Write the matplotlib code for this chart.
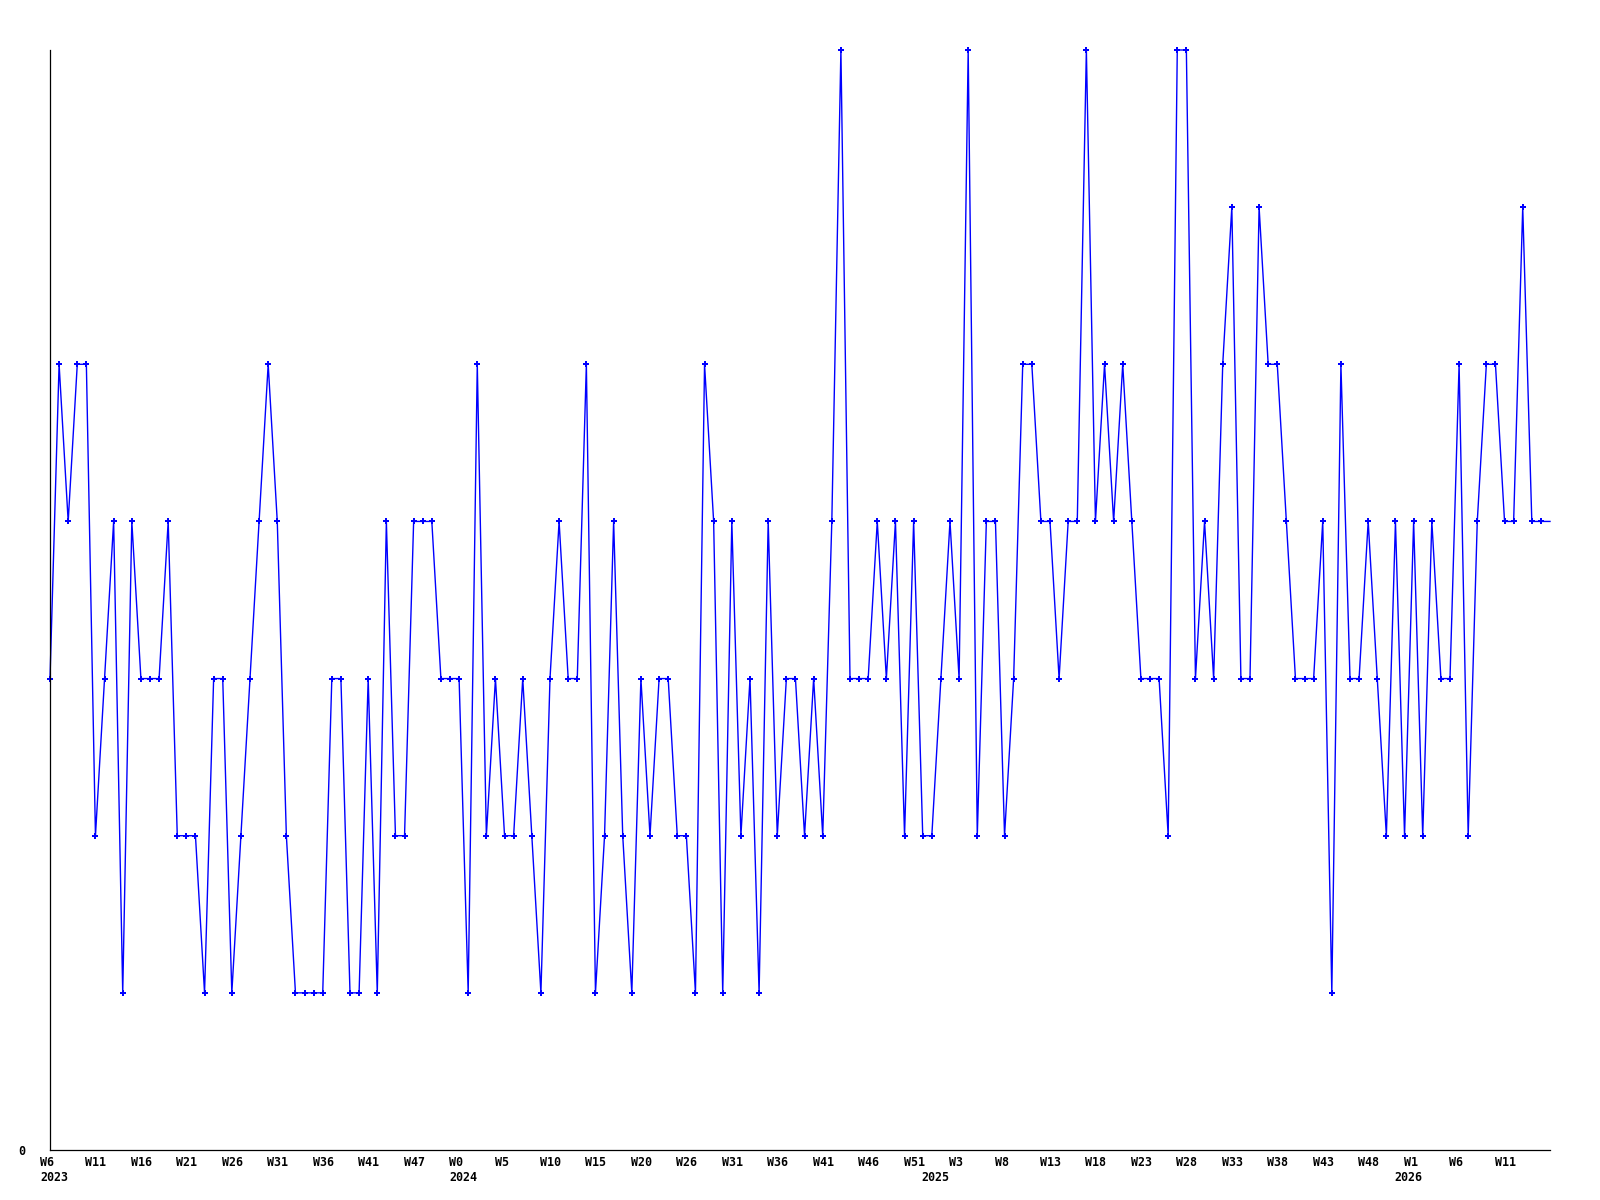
import matplotlib
matplotlib.use('Agg')
import matplotlib.pyplot as plt
from matplotlib.transforms import offset_copy

# weekly values (index 0 = 2023 W6)
values = [3, 5, 4, 5, 5, 2, 3, 4, 1, 4,
          3, 3, 3, 4, 2, 2, 2, 1, 3, 3,
          1, 2, 3, 4, 5, 4, 2, 1, 1, 1,
          1, 3, 3, 1, 1, 3, 1, 4, 2, 2,
          4, 4, 4, 3, 3, 3, 1, 5, 2, 3,
          2, 2, 3, 2, 1, 3, 4, 3, 3, 5,
          1, 2, 4, 2, 1, 3, 2, 3, 3, 2,
          2, 1, 5, 4, 1, 4, 2, 3, 1, 4,
          2, 3, 3, 2, 3, 2, 4, 7, 3, 3,
          3, 4, 3, 4, 2, 4, 2, 2, 3, 4,
          3, 7, 2, 4, 4, 2, 3, 5, 5, 4,
          4, 3, 4, 4, 7, 4, 5, 4, 5, 4,
          3, 3, 3, 2, 7, 7, 3, 4, 3, 5,
          6, 3, 3, 6, 5, 5, 4, 3, 3, 3,
          4, 1, 5, 3, 3, 4, 3, 2, 4, 2,
          4, 2, 4, 3, 3, 5, 2, 4, 5, 5,
          4, 4, 6, 4, 4, 4]

week_labels = ["W6", "W11", "W16", "W21", "W26", "W31", "W36", "W41", "W47",
               "W0", "W5", "W10", "W15", "W20", "W26", "W31", "W36", "W41",
               "W46", "W51", "W3", "W8", "W13", "W18", "W23", "W28", "W33",
               "W38", "W43", "W48", "W1", "W6", "W11"]
week_label_every = 5
year_labels = ["2023", "2024", "2025", "2026"]
year_positions = [0, 45, 97, 149]

fig = plt.figure(figsize=(16, 12), dpi=100)
ax = fig.add_axes([50/1600, 50/1200, 1500/1600, 1100/1200])

x = list(range(len(values)))
ax.plot(x, values, color='#0000ff', linewidth=1.0, marker='P', markersize=4,
        markeredgewidth=0, markevery=list(range(len(values) - 1)), clip_on=False)

ax.set_xlim(0, len(values) - 1)
ax.set_ylim(0, 7)

for s in ['top', 'right']:
    ax.spines[s].set_visible(False)
for s in ['left', 'bottom']:
    ax.spines[s].set_linewidth(0.9)
    ax.spines[s].set_color('black')

ax.set_xticks([])
ax.set_yticks([0])
ax.set_yticklabels(['0'], fontfamily='DejaVu Sans Mono', fontweight='bold', fontsize=8.4)
ax.tick_params(axis='y', length=0, pad=18)

font = dict(fontfamily='DejaVu Sans Mono', fontweight='bold', fontsize=8.4, color='black')
tr1 = offset_copy(ax.get_xaxis_transform(), fig=fig, x=-10, y=-16, units='dots')
tr2 = offset_copy(ax.get_xaxis_transform(), fig=fig, x=-10, y=-31, units='dots')
for i, lab in enumerate(week_labels):
    ax.text(i * week_label_every, 0, lab, transform=tr1, ha='left', va='baseline',
            clip_on=False, **font)
for pos, lab in zip(year_positions, year_labels):
    ax.text(pos, 0, lab, transform=tr2, ha='left', va='baseline', clip_on=False, **font)

fig.savefig('out.png', dpi=100, facecolor='white')
